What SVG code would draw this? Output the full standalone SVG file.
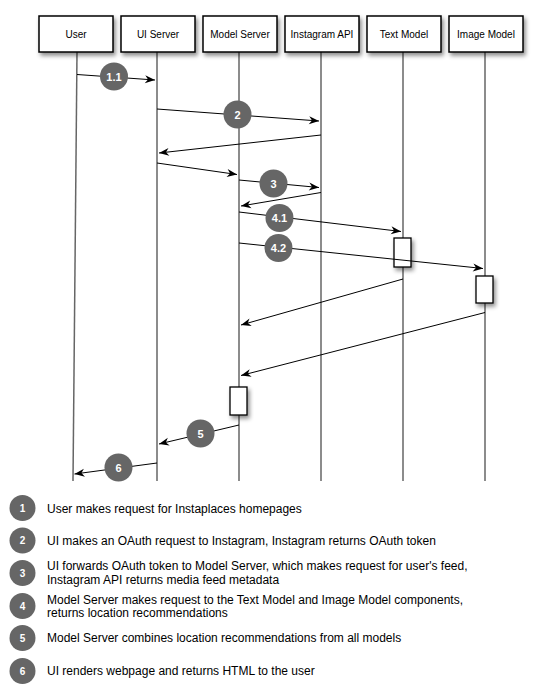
<svg xmlns="http://www.w3.org/2000/svg" width="543" height="694" viewBox="0 0 543 694">
<style>
.box{fill:#fff;stroke:#000;stroke-width:1.5;filter:url(#sh)}
.act{fill:#fff;stroke:#000;stroke-width:1.3;filter:url(#sh)}
.life{stroke:#666;stroke-width:1.5;fill:none}
.hdr{font-family:"Liberation Sans",Arial,sans-serif;font-size:10px;fill:#000;text-anchor:middle}
.msg{stroke:#000;stroke-width:1;fill:none;marker-end:url(#ah)}
.badge{fill:#666}
.bt{font-family:"Liberation Sans",Arial,sans-serif;font-size:11px;font-weight:bold;fill:#fff;text-anchor:middle}
.lbt{font-family:"Liberation Sans",Arial,sans-serif;font-size:10px;font-weight:bold;fill:#fff;text-anchor:middle}
.leg{font-family:"Liberation Sans",Arial,sans-serif;font-size:12px;fill:#000}
</style>
<defs>
<filter id="sh" x="-30%" y="-30%" width="170%" height="180%">
<feDropShadow dx="2" dy="3" stdDeviation="2" flood-color="#000" flood-opacity="0.45"/>
</filter>
<marker id="ah" markerWidth="12" markerHeight="10" refX="10" refY="0" viewBox="-1 -5 12 10" orient="auto" markerUnits="userSpaceOnUse">
<path d="M0,-4 L10,0 L0,4 L3,0 z" fill="#000"/>
</marker>
</defs>
<rect width="543" height="694" fill="#fff"/>

<g id="user">
<line class="life" x1="77" y1="52" x2="73" y2="481"/>
<rect class="box" x="39" y="16" width="74" height="36"/>
<text class="hdr" x="76" y="37.5">User</text>
</g>
<g id="ui-server">
<line class="life" x1="157" y1="52" x2="157" y2="481"/>
<rect class="box" x="121" y="16" width="74" height="36"/>
<text class="hdr" x="158" y="37.5">UI Server</text>
</g>
<g id="model-server">
<line class="life" x1="239" y1="52" x2="239" y2="481"/>
<rect class="box" x="203" y="16" width="74" height="36"/>
<text class="hdr" x="240" y="37.5">Model Server</text>
</g>
<g id="instagram-api">
<line class="life" x1="321" y1="52" x2="321" y2="481"/>
<rect class="box" x="285" y="16" width="74" height="36"/>
<text class="hdr" x="322" y="37.5">Instagram API</text>
</g>
<g id="text-model">
<line class="life" x1="403" y1="52" x2="403" y2="481"/>
<rect class="box" x="367" y="16" width="74" height="36"/>
<text class="hdr" x="404" y="37.5">Text Model</text>
</g>
<g id="image-model">
<line class="life" x1="485" y1="52" x2="485" y2="481"/>
<rect class="box" x="449" y="16" width="74" height="36"/>
<text class="hdr" x="486" y="37.5">Image Model</text>
</g>

<g id="activations">
<rect class="act" x="394" y="238" width="17" height="29"/>
<rect class="act" x="476" y="276" width="17" height="27"/>
<rect class="act" x="230" y="387" width="17" height="28"/>
</g>

<g id="connectors">
<line class="msg" x1="77" y1="74.5" x2="155" y2="80"/>
<line class="msg" x1="157" y1="109" x2="319" y2="121"/>
<line class="msg" x1="321" y1="135" x2="159" y2="153"/>
<line class="msg" x1="157" y1="163" x2="237" y2="174.5"/>
<line class="msg" x1="239" y1="180" x2="319" y2="187.5"/>
<line class="msg" x1="321" y1="192.5" x2="241" y2="206"/>
<line class="msg" x1="239" y1="212" x2="401" y2="231.5"/>
<line class="msg" x1="239" y1="243" x2="483" y2="268.5"/>
<line class="msg" x1="403" y1="279" x2="241" y2="325"/>
<line class="msg" x1="485" y1="312.5" x2="241" y2="375.5"/>
<line class="msg" x1="239" y1="425" x2="159" y2="444"/>
<line class="msg" x1="157" y1="463" x2="74.5" y2="474"/>
</g>

<g id="badges">
<circle class="badge" cx="114" cy="76.5" r="14"/><text class="bt" x="114" y="80.5">1.1</text>
<circle class="badge" cx="237.5" cy="114.5" r="14"/><text class="bt" x="237.5" y="118.5">2</text>
<circle class="badge" cx="273.5" cy="183.5" r="14"/><text class="bt" x="273.5" y="187.5">3</text>
<circle class="badge" cx="279.5" cy="218" r="14"/><text class="bt" x="279.5" y="222">4.1</text>
<circle class="badge" cx="278.5" cy="248" r="14"/><text class="bt" x="278.5" y="252">4.2</text>
<circle class="badge" cx="200.5" cy="433.5" r="14"/><text class="bt" x="200.5" y="437.5">5</text>
<circle class="badge" cx="118.5" cy="467.5" r="14"/><text class="bt" x="118.5" y="471.5">6</text>
</g>

<g id="legend">
<circle class="badge" cx="22.5" cy="508" r="13"/><text class="lbt" x="22.5" y="511.5">1</text>
<text class="leg" x="47" y="512.5">User makes request for Instaplaces homepages</text>
<circle class="badge" cx="22.5" cy="540.5" r="13"/><text class="lbt" x="22.5" y="544">2</text>
<text class="leg" x="47" y="545">UI makes an OAuth request to Instagram, Instagram returns OAuth token</text>
<circle class="badge" cx="22.5" cy="573" r="13"/><text class="lbt" x="22.5" y="576.5">3</text>
<text class="leg" x="47" y="570">UI forwards OAuth token to Model Server, which makes request for user's feed,</text>
<text class="leg" x="47" y="583.5">Instagram API returns media feed metadata</text>
<circle class="badge" cx="22.5" cy="606" r="13"/><text class="lbt" x="22.5" y="609.5">4</text>
<text class="leg" x="47" y="603.5">Model Server makes request to the Text Model and Image Model components,</text>
<text class="leg" x="47" y="617">returns location recommendations</text>
<circle class="badge" cx="22.5" cy="638" r="13"/><text class="lbt" x="22.5" y="641.5">5</text>
<text class="leg" x="47" y="642">Model Server combines location recommendations from all models</text>
<circle class="badge" cx="22.5" cy="671" r="13"/><text class="lbt" x="22.5" y="674.5">6</text>
<text class="leg" x="47" y="675">UI renders webpage and returns HTML to the user</text>
</g>
</svg>
